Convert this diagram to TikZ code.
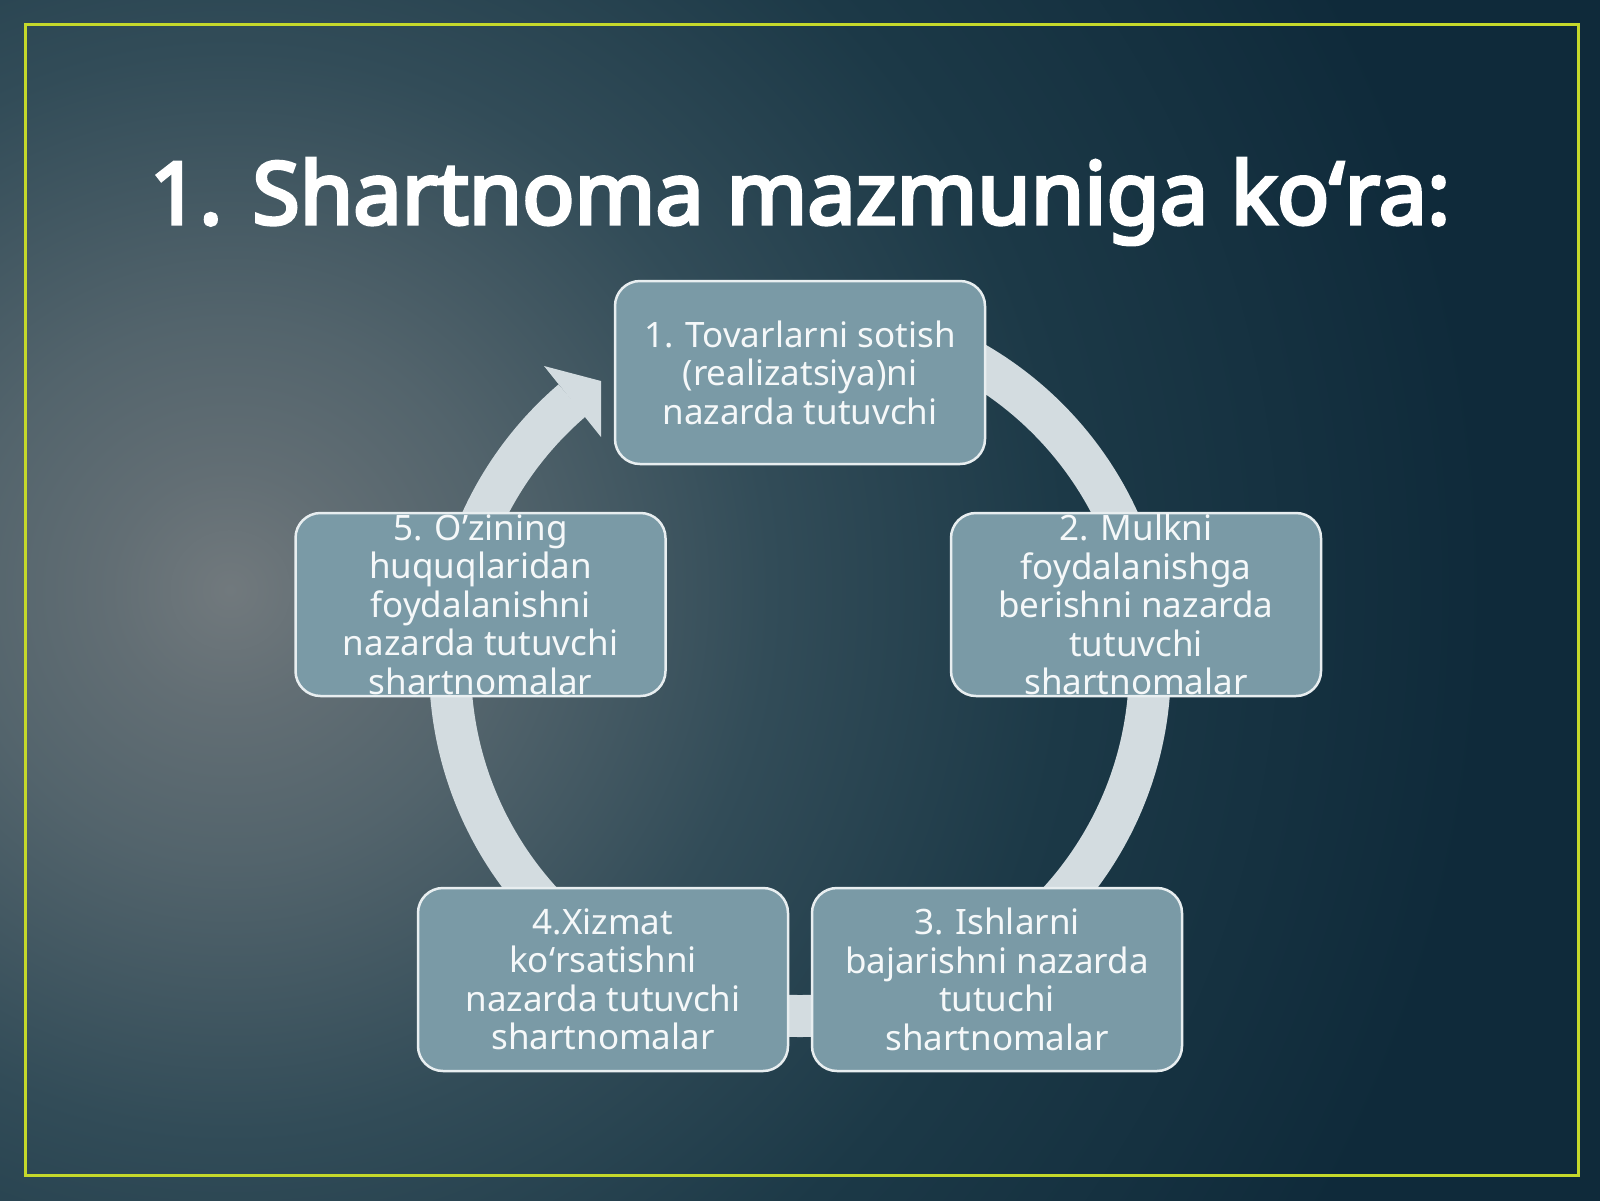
\documentclass[tikz,border=0pt]{standalone}
\usepackage{fontspec}
\setmainfont{Noto Sans}
\newfontfamily\headfont{Noto Sans}[FakeBold=4]

\definecolor{bgdark}{HTML}{0F2A3A}
\definecolor{bgdeep}{HTML}{1C3947}
\definecolor{bgmid}{HTML}{324C58}
\definecolor{glow}{HTML}{71797D}
\definecolor{glowtwo}{HTML}{626E74}
\definecolor{glowthree}{HTML}{53646C}
\definecolor{frame}{HTML}{C5D82B}
\definecolor{boxfill}{HTML}{7A9AA6}
\definecolor{boxline}{HTML}{E8EEF0}
\definecolor{boxtext}{HTML}{F5F8F9}
\definecolor{ringcol}{HTML}{D3DCE0}

% 25bp is the radius of the shaded circle
\pgfdeclareradialshading{bgglow}{\pgfpointorigin}{color(0bp)=(glow); color(2bp)=(glowtwo); color(4.5bp)=(glowthree); color(9bp)=(bgmid); color(14bp)=(bgdeep); color(21bp)=(bgdark); color(50bp)=(bgdark)}

\tikzset{
  box/.style={draw=boxline, line width=2.5pt, fill=boxfill, rounded corners=25pt,
    minimum width=370pt, minimum height=183pt, inner sep=0pt, align=center,
    text=boxtext, font=\fontsize{35}{38.5}\selectfont},
  ring/.style={draw=ringcol, line width=42pt},
  heading/.style={text=white, anchor=base, inner sep=0pt, font=\headfont\fontsize{86.5}{100}\selectfont}
}

\begin{document}
\begin{tikzpicture}[x=1pt, y=-1pt]

        \useasboundingbox (0,0) rectangle (1600,1200);

        % background
        \begin{scope}
        \clip (0,0) rectangle (1600,1200);
        \fill [bgdark] (0,0) rectangle (1600,1200);
        \shade [shading=bgglow] (230,590) circle (1500);
        \end{scope}

        \draw [frame, line width=3pt] (25,24) rectangle (1578,1175);

        \node [heading] (title) at (800,224) {1. Shartnoma mazmuniga koʻra:};

        % cycle
        \coordinate (hub) at (800,666);
        \draw [ring] (hub) ++(-90:350) arc [start angle=-90, end angle=229.4, radius=350];
        \fill [ringcol] (544,366) -- (601,381) -- (601,437) -- cycle;

        \node [box] (tovar) at (800,372.5) {1. Tovarlarni sotish\\(realizatsiya)ni\\nazarda tutuvchi};
        \node [box] (mulk) at (1136,604.5) {2. Mulkni\\foydalanishga\\berishni nazarda\\tutuvchi\\shartnomalar};
        \node [box] (ish) at (997,979.5) {3. Ishlarni\\bajarishni nazarda\\tutuchi\\shartnomalar};
        \node [box] (xizmat) at (603,979.5) {4.Xizmat\\koʻrsatishni\\nazarda tutuvchi\\shartnomalar};
        \node [box] (huquq) at (480.5,604.5) {5. O’zining\\huquqlaridan\\foydalanishni\\nazarda tutuvchi\\shartnomalar};

\end{tikzpicture}
\end{document}
